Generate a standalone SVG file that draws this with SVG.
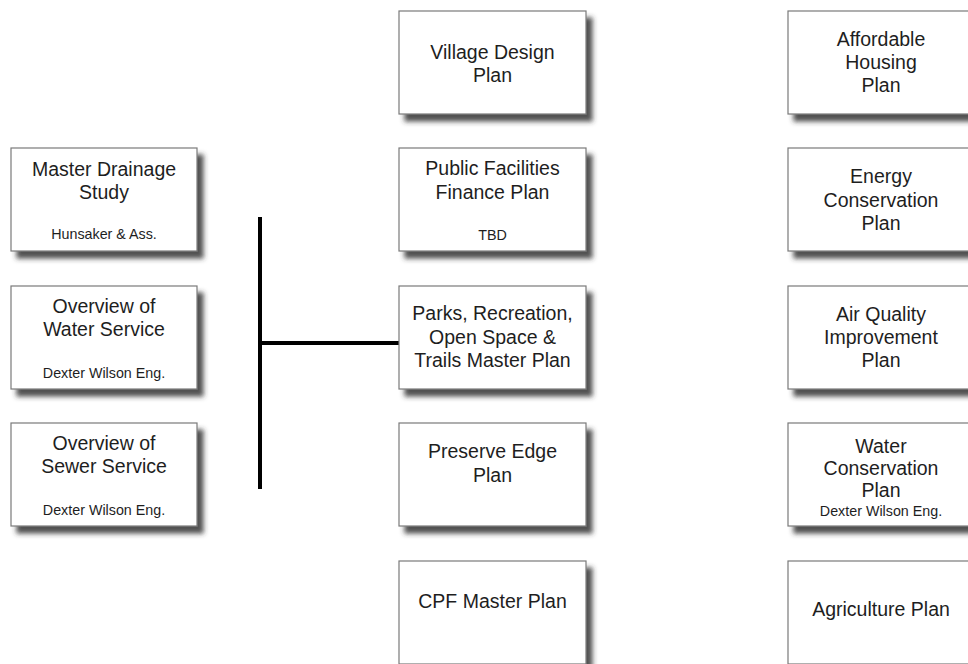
<svg xmlns="http://www.w3.org/2000/svg" width="968" height="664" viewBox="0 0 968 664">
<defs>
<filter id="sh" x="-10%" y="-10%" width="130%" height="140%">
<feDropShadow dx="6" dy="7" stdDeviation="2.5" flood-color="#333" flood-opacity="0.85"/>
</filter>
</defs>
<style>
.box{fill:#fff;stroke:#7a7a7a;stroke-width:1.2;filter:url(#sh)}
.t{font-family:"Liberation Sans",Arial,sans-serif;font-size:19.5px;fill:#1e1e1e;text-anchor:middle}
.s{font-family:"Liberation Sans",Arial,sans-serif;font-size:14.3px;fill:#1e1e1e;text-anchor:middle}
.c{stroke:#000;stroke-width:4;fill:none}
</style>
<rect width="968" height="664" fill="#fff"/>
<g id="connectors">
<line class="c" x1="260" y1="217" x2="260" y2="489"/>
<line class="c" x1="258" y1="343" x2="399" y2="343"/>
</g>
<g id="master-drainage">
<rect class="box" x="11" y="148" width="186" height="103"/>
<text class="t" x="104" y="175.5">Master Drainage</text>
<text class="t" x="104" y="199">Study</text>
<text class="s" x="104" y="239">Hunsaker &amp; Ass.</text>
</g>
<g id="water-service">
<rect class="box" x="11" y="286" width="186" height="103"/>
<text class="t" x="104" y="313">Overview of</text>
<text class="t" x="104" y="336">Water Service</text>
<text class="s" x="104" y="378">Dexter Wilson Eng.</text>
</g>
<g id="sewer-service">
<rect class="box" x="11" y="423" width="186" height="103"/>
<text class="t" x="104" y="450">Overview of</text>
<text class="t" x="104" y="473">Sewer Service</text>
<text class="s" x="104" y="515">Dexter Wilson Eng.</text>
</g>
<g id="village-design">
<rect class="box" x="399" y="11" width="187" height="103"/>
<text class="t" x="492.5" y="59">Village Design</text>
<text class="t" x="492.5" y="82">Plan</text>
</g>
<g id="public-facilities">
<rect class="box" x="399" y="148" width="187" height="103"/>
<text class="t" x="492.5" y="175">Public Facilities</text>
<text class="t" x="492.5" y="198.5">Finance Plan</text>
<text class="s" x="492.5" y="240">TBD</text>
</g>
<g id="parks">
<rect class="box" x="399" y="286" width="187" height="103"/>
<text class="t" x="492.5" y="320">Parks, Recreation,</text>
<text class="t" x="492.5" y="343.5">Open Space &amp;</text>
<text class="t" x="492.5" y="367">Trails Master Plan</text>
</g>
<g id="preserve-edge">
<rect class="box" x="399" y="423" width="187" height="103"/>
<text class="t" x="492.5" y="458">Preserve Edge</text>
<text class="t" x="492.5" y="482">Plan</text>
</g>
<g id="cpf">
<rect class="box" x="399" y="561" width="187" height="103"/>
<text class="t" x="492.5" y="608">CPF Master Plan</text>
</g>
<g id="affordable-housing">
<rect class="box" x="788" y="11" width="186" height="103"/>
<text class="t" x="881" y="46">Affordable</text>
<text class="t" x="881" y="69">Housing</text>
<text class="t" x="881" y="92">Plan</text>
</g>
<g id="energy">
<rect class="box" x="788" y="148" width="186" height="103"/>
<text class="t" x="881" y="183">Energy</text>
<text class="t" x="881" y="207">Conservation</text>
<text class="t" x="881" y="230">Plan</text>
</g>
<g id="air-quality">
<rect class="box" x="788" y="286" width="186" height="103"/>
<text class="t" x="881" y="321">Air Quality</text>
<text class="t" x="881" y="344">Improvement</text>
<text class="t" x="881" y="367">Plan</text>
</g>
<g id="water-conservation">
<rect class="box" x="788" y="423" width="186" height="103"/>
<text class="t" x="881" y="453">Water</text>
<text class="t" x="881" y="475">Conservation</text>
<text class="t" x="881" y="497">Plan</text>
<text class="s" x="881" y="516">Dexter Wilson Eng.</text>
</g>
<g id="agriculture">
<rect class="box" x="788" y="561" width="186" height="103"/>
<text class="t" x="881" y="616">Agriculture Plan</text>
</g>
</svg>
